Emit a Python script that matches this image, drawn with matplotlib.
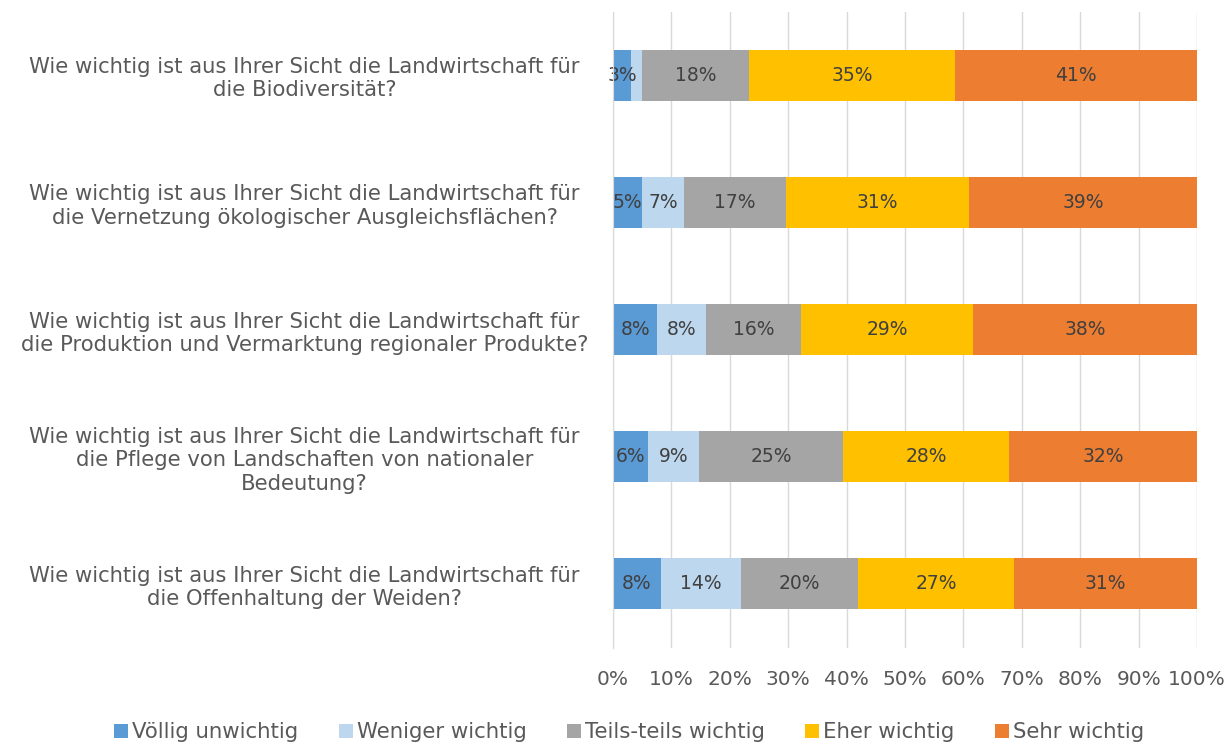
import matplotlib.pyplot as plt
import numpy as np

questions = [
    'Wie wichtig ist aus Ihrer Sicht die Landwirtschaft für\ndie Biodiversität?',
    'Wie wichtig ist aus Ihrer Sicht die Landwirtschaft für\ndie Vernetzung ökologischer Ausgleichsflächen?',
    'Wie wichtig ist aus Ihrer Sicht die Landwirtschaft für\ndie Produktion und Vermarktung regionaler Produkte?',
    'Wie wichtig ist aus Ihrer Sicht die Landwirtschaft für\ndie Pflege von Landschaften von nationaler\nBedeutung?',
    'Wie wichtig ist aus Ihrer Sicht die Landwirtschaft für\ndie Offenhaltung der Weiden?',
]

categories = ['Völlig unwichtig', 'Weniger wichtig', 'Teils-teils wichtig',
              'Eher wichtig', 'Sehr wichtig']

voellig_unwichtig = [3.1, 5.0, 7.6, 6.0, 8.2]
weniger_wichtig = [1.9, 7.2, 8.4, 8.7, 13.7]
teils_teils = [18.2, 17.4, 16.2, 24.7, 20.0]
eher_wichtig = [35.4, 31.4, 29.4, 28.4, 26.8]
sehr_wichtig = [41.4, 39.0, 38.4, 32.2, 31.3]

COLORS = ['#5B9BD5', '#BDD7EE', '#A5A5A5', '#FFC000', '#ED7D31']
TEXT = '#595959'

series = [voellig_unwichtig, weniger_wichtig, teils_teils, eher_wichtig, sehr_wichtig]

fig = plt.figure(figsize=(12.29, 7.44), dpi=100)
ax = fig.add_axes([0.4988, 0.1297, 0.4752, 0.8548])

y = np.arange(len(questions))
left = np.zeros(len(questions))
for vals, name, col in zip(series, categories, COLORS):
    vals = np.array(vals)
    ax.barh(y, vals, left=left, height=0.4, color=col, label=name, zorder=3)
    for yi, l, v in zip(y, left, vals):
        if v >= 2.5:
            ax.text(l + v / 2, yi, f'{round(v)}%', ha='center', va='center',
                    fontsize=13.5, color='#404040', zorder=4)
    left += vals

ax.set_xlim(0, 100)
ax.set_ylim(len(questions) - 0.5, -0.5)
ax.set_xticks(np.arange(0, 101, 10))
ax.set_xticklabels([f'{t}%' for t in range(0, 101, 10)])
ax.grid(axis='x', color='#D9D9D9', linewidth=1, zorder=0)
for s in ['top', 'right', 'bottom']:
    ax.spines[s].set_visible(False)
ax.spines['left'].set_color('#D9D9D9')
ax.spines['left'].set_zorder(5)

ax.set_yticks(y)
ax.set_yticklabels(questions)
ax.tick_params(axis='y', length=0, pad=222, labelsize=15.2, labelcolor=TEXT)
ax.tick_params(axis='x', length=0, pad=16, labelsize=14.5, labelcolor=TEXT)
for lbl in ax.get_yticklabels():
    lbl.set_horizontalalignment('center')
    lbl.set_multialignment('center')

leg = fig.legend(loc='center', bbox_to_anchor=(0.512, 0.016), ncol=5, frameon=False,
                 fontsize=15.3, handlelength=0.65, handleheight=0.65, handletextpad=0.2,
                 columnspacing=1.9, labelcolor=TEXT)

fig.savefig('out.png', dpi=100)
